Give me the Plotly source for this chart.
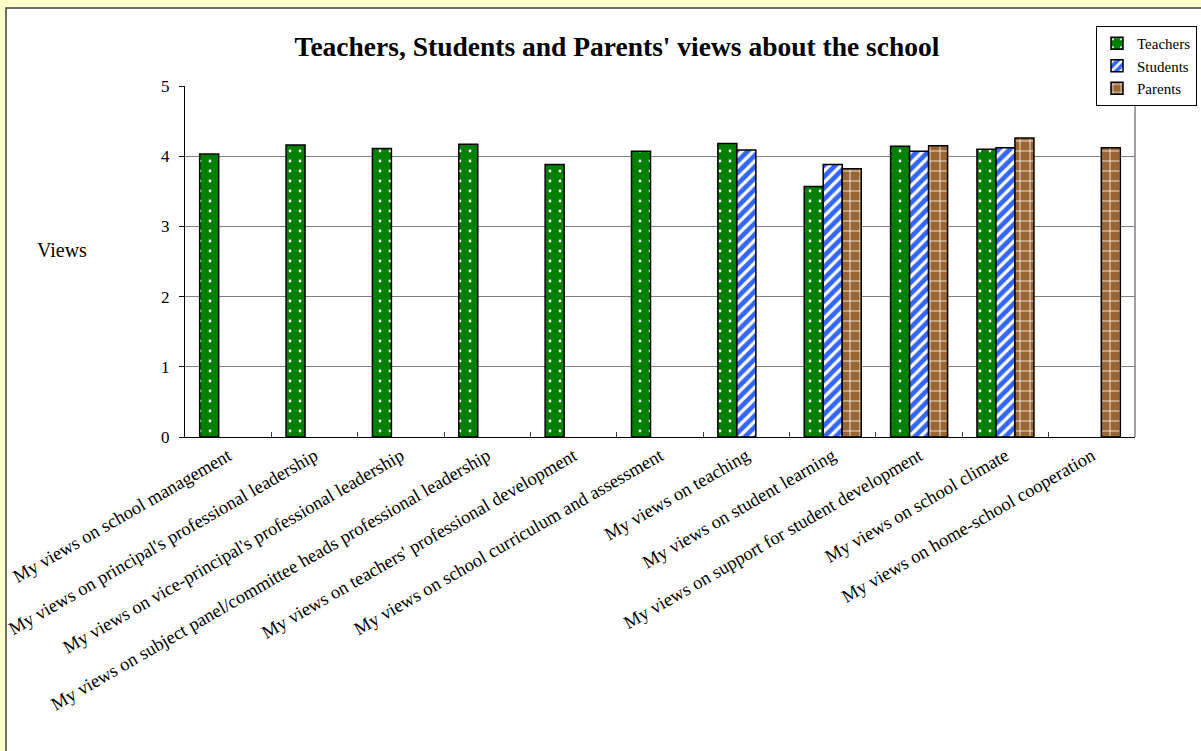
import plotly.graph_objects as go

categories = [
    "My views on school management",
    "My views on principal's professional leadership",
    "My views on vice-principal's professional leadership",
    "My views on subject panel/committee heads professional leadership",
    "My views on teachers' professional development",
    "My views on school curriculum and assessment",
    "My views on teaching",
    "My views on student learning",
    "My views on support for student development",
    "My views on school climate",
    "My views on home-school cooperation",
]
teachers = [4.03, 4.16, 4.11, 4.17, 3.88, 4.07, 4.18, 3.57, 4.14, 4.10, None]
students = [None, None, None, None, None, None, 4.09, 3.88, 4.07, 4.12, None]
parents = [None, None, None, None, None, None, None, 3.82, 4.15, 4.26, 4.12]

y_ticks = [0, 1, 2, 3, 4, 5]

SERIF = "Liberation Serif"

fig = go.Figure()
fig.add_trace(go.Bar(
    name="Teachers", x=categories, y=teachers,
    marker=dict(color="#008000", line=dict(color="black", width=1.5),
                pattern=dict(shape=".", bgcolor="#008000", fgcolor="white",
                             size=10, solidity=0.06, fillmode="replace")),
))
fig.add_trace(go.Bar(
    name="Students", x=categories, y=students,
    marker=dict(color="#3366FF", line=dict(color="black", width=1.5),
                pattern=dict(shape="/", bgcolor="#3366FF", fgcolor="white",
                             size=8, solidity=0.4, fillmode="replace")),
))
fig.add_trace(go.Bar(
    name="Parents", x=categories, y=parents,
    marker=dict(color="#996633", line=dict(color="black", width=1.5),
                pattern=dict(shape="+", bgcolor="#996633", fgcolor="white",
                             size=10, solidity=0.15, fillmode="replace")),
))

# pixel -> paper helpers (plot area: x 185..1135, y 86..437)
L, R, T, B = 185, 66, 86, 314
PW, PH = 1201 - L - R, 751 - T - B
def px(x):
    return (x - L) / PW
def py(y):
    return (751 - B - y) / PH

fig.update_layout(
    width=1201, height=751,
    margin=dict(l=L, r=R, t=T, b=B, autoexpand=False),
    paper_bgcolor="#FFFFCC",
    plot_bgcolor="white",
    barmode="group",
    bargap=0.34,
    bargroupgap=0,
    font=dict(family=SERIF, color="black"),
    title=dict(text="<b>Teachers, Students and Parents' views about the school</b>",
               x=617 / 1201, xanchor="center", y=1 - 46 / 751, yanchor="middle",
               font=dict(family=SERIF, size=27.5, color="black")),
    legend=dict(x=px(1197), xanchor="right", y=py(26), yanchor="top",
                bgcolor="white", bordercolor="black", borderwidth=1,
                font=dict(family=SERIF, size=15, color="black"),
                itemwidth=30, tracegroupgap=0),
    xaxis=dict(showline=True, linecolor="black", linewidth=1,
               ticks="inside", tickson="boundaries", ticklen=5, tickcolor="#404040",
               tickangle=-30, tickfont=dict(family=SERIF, size=18.5, color="black"),
               automargin=False, showgrid=False),
    yaxis=dict(range=[0, 5], tickvals=y_ticks, showline=True, linecolor="black",
               linewidth=1, ticks="outside", ticklen=5, tickcolor="black",
               showgrid=True, gridcolor="#808080", gridwidth=1,
               tickfont=dict(family=SERIF, size=17, color="black"),
               ticklabelstandoff=6, automargin=False, zeroline=False),
    shapes=[
        dict(type="rect", xref="paper", yref="paper", x0=px(6), x1=px(1230),
             y0=py(8), y1=py(780), fillcolor="white",
             line=dict(color="#404040", width=1.5), layer="below"),
        dict(type="line", xref="paper", yref="paper", x0=1, x1=1, y0=0, y1=1,
             line=dict(color="#808080", width=1.5)),
    ],
    annotations=[
        dict(text="Views", xref="paper", yref="paper", x=px(62), y=py(250),
             xanchor="center", yanchor="middle", showarrow=False,
             font=dict(family=SERIF, size=20, color="black")),
    ],
)

fig.write_html("out.html",
               config={"displayModeBar": False},
               post_script="document.body.style.margin='0px';document.body.style.overflow='hidden';")
